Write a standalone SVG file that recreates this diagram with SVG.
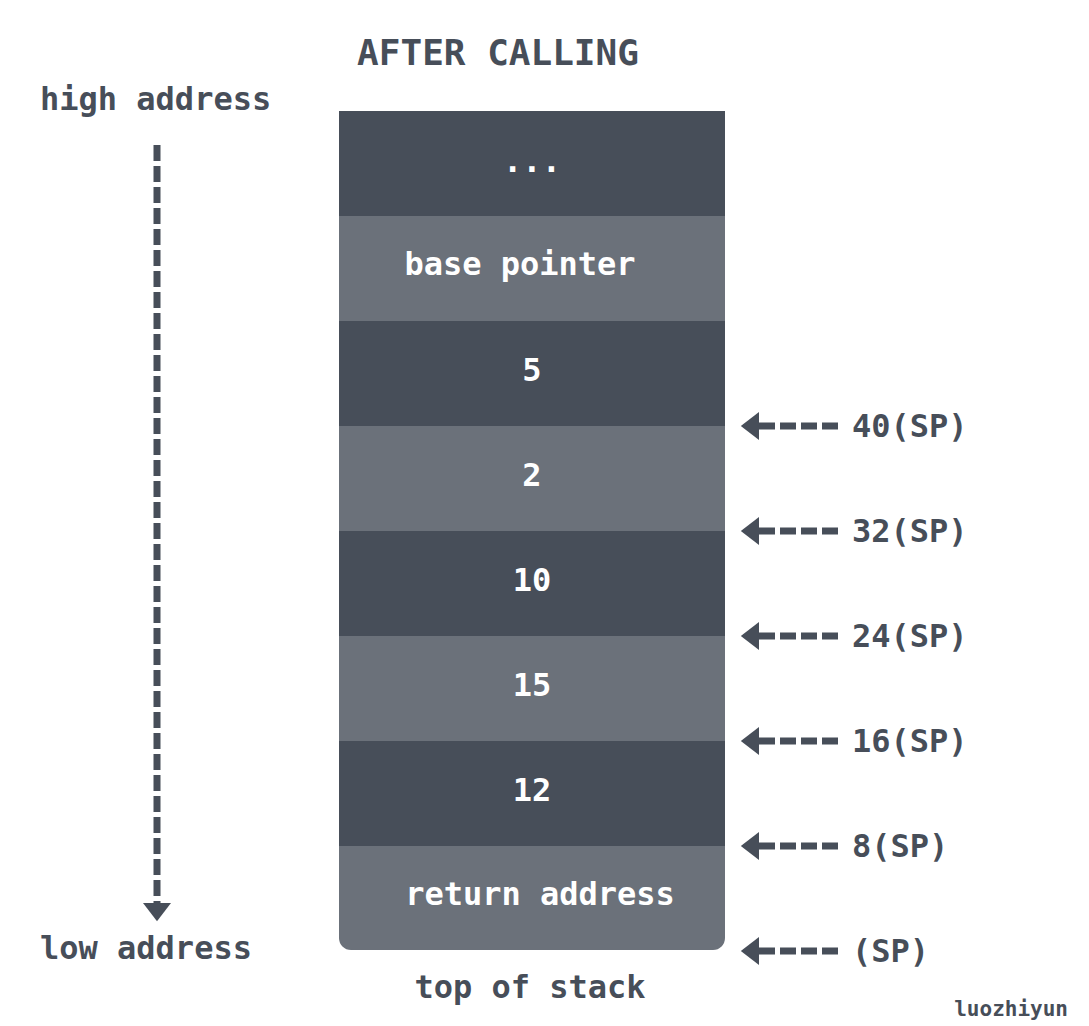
<svg xmlns="http://www.w3.org/2000/svg" width="1089" height="1026" viewBox="0 0 1089 1026">
<style>
text{font-family:"DejaVu Sans Mono","Liberation Mono",monospace;font-weight:bold}
.t{fill:#474e59;font-size:32px}
.w{fill:#ffffff;font-size:32px;text-anchor:middle}
.d{fill:#474e59}.l{fill:#6b717a}
.c{stroke:#474e59;stroke-width:7;stroke-dasharray:16 5;fill:none}
</style>
<defs>
<marker id="ah" markerWidth="4" markerHeight="4" refX="1" refY="2" orient="auto" markerUnits="strokeWidth"><path d="M0,0L2.6,2L0,4Z" fill="#474e59"/></marker>
</defs>
<rect width="1089" height="1026" fill="#fff"/>
<text x="498" y="65" class="t" font-size="36" style="font-size:36px" text-anchor="middle">AFTER CALLING</text>
<text x="40" y="110" class="t">high address</text>
<text x="40" y="959" class="t">low address</text>
<text x="530" y="998" class="t" text-anchor="middle">top of stack</text>
<text x="1068" y="1016" class="t" style="font-size:21px" text-anchor="end">luozhiyun</text>
<g id="n0"><rect x="339" y="111" width="386" height="105" class="d"/><text x="532" y="172" class="w">...</text></g>
<g id="n1"><rect x="339" y="216" width="386" height="105" class="l"/><text x="520" y="275" class="w">base pointer</text></g>
<g id="n2"><rect x="339" y="321" width="386" height="105" class="d"/><text x="532" y="381" class="w">5</text></g>
<g id="n3"><rect x="339" y="426" width="386" height="105" class="l"/><text x="532" y="486" class="w">2</text></g>
<g id="n4"><rect x="339" y="531" width="386" height="105" class="d"/><text x="532" y="591" class="w">10</text></g>
<g id="n5"><rect x="339" y="636" width="386" height="105" class="l"/><text x="532" y="696" class="w">15</text></g>
<g id="n6"><rect x="339" y="741" width="386" height="105" class="d"/><text x="532" y="801" class="w">12</text></g>
<g id="n7"><path d="M339,846H725V938A12,12 0 0 1 713,950H351A12,12 0 0 1 339,938Z" class="l"/><text x="540" y="905" class="w">return address</text></g>
<g id="connectors">
<path d="M157,145V910" class="c" marker-end="url(#ah)"/>
<path d="M838,426H752" class="c" marker-end="url(#ah)"/>
<path d="M838,531H752" class="c" marker-end="url(#ah)"/>
<path d="M838,636H752" class="c" marker-end="url(#ah)"/>
<path d="M838,741H752" class="c" marker-end="url(#ah)"/>
<path d="M838,846H752" class="c" marker-end="url(#ah)"/>
<path d="M838,951H752" class="c" marker-end="url(#ah)"/>
</g>
<g id="labels">
<text x="852" y="437" class="t">40(SP)</text>
<text x="852" y="542" class="t">32(SP)</text>
<text x="852" y="647" class="t">24(SP)</text>
<text x="852" y="752" class="t">16(SP)</text>
<text x="852" y="857" class="t">8(SP)</text>
<text x="852" y="962" class="t">(SP)</text>
</g>
</svg>
